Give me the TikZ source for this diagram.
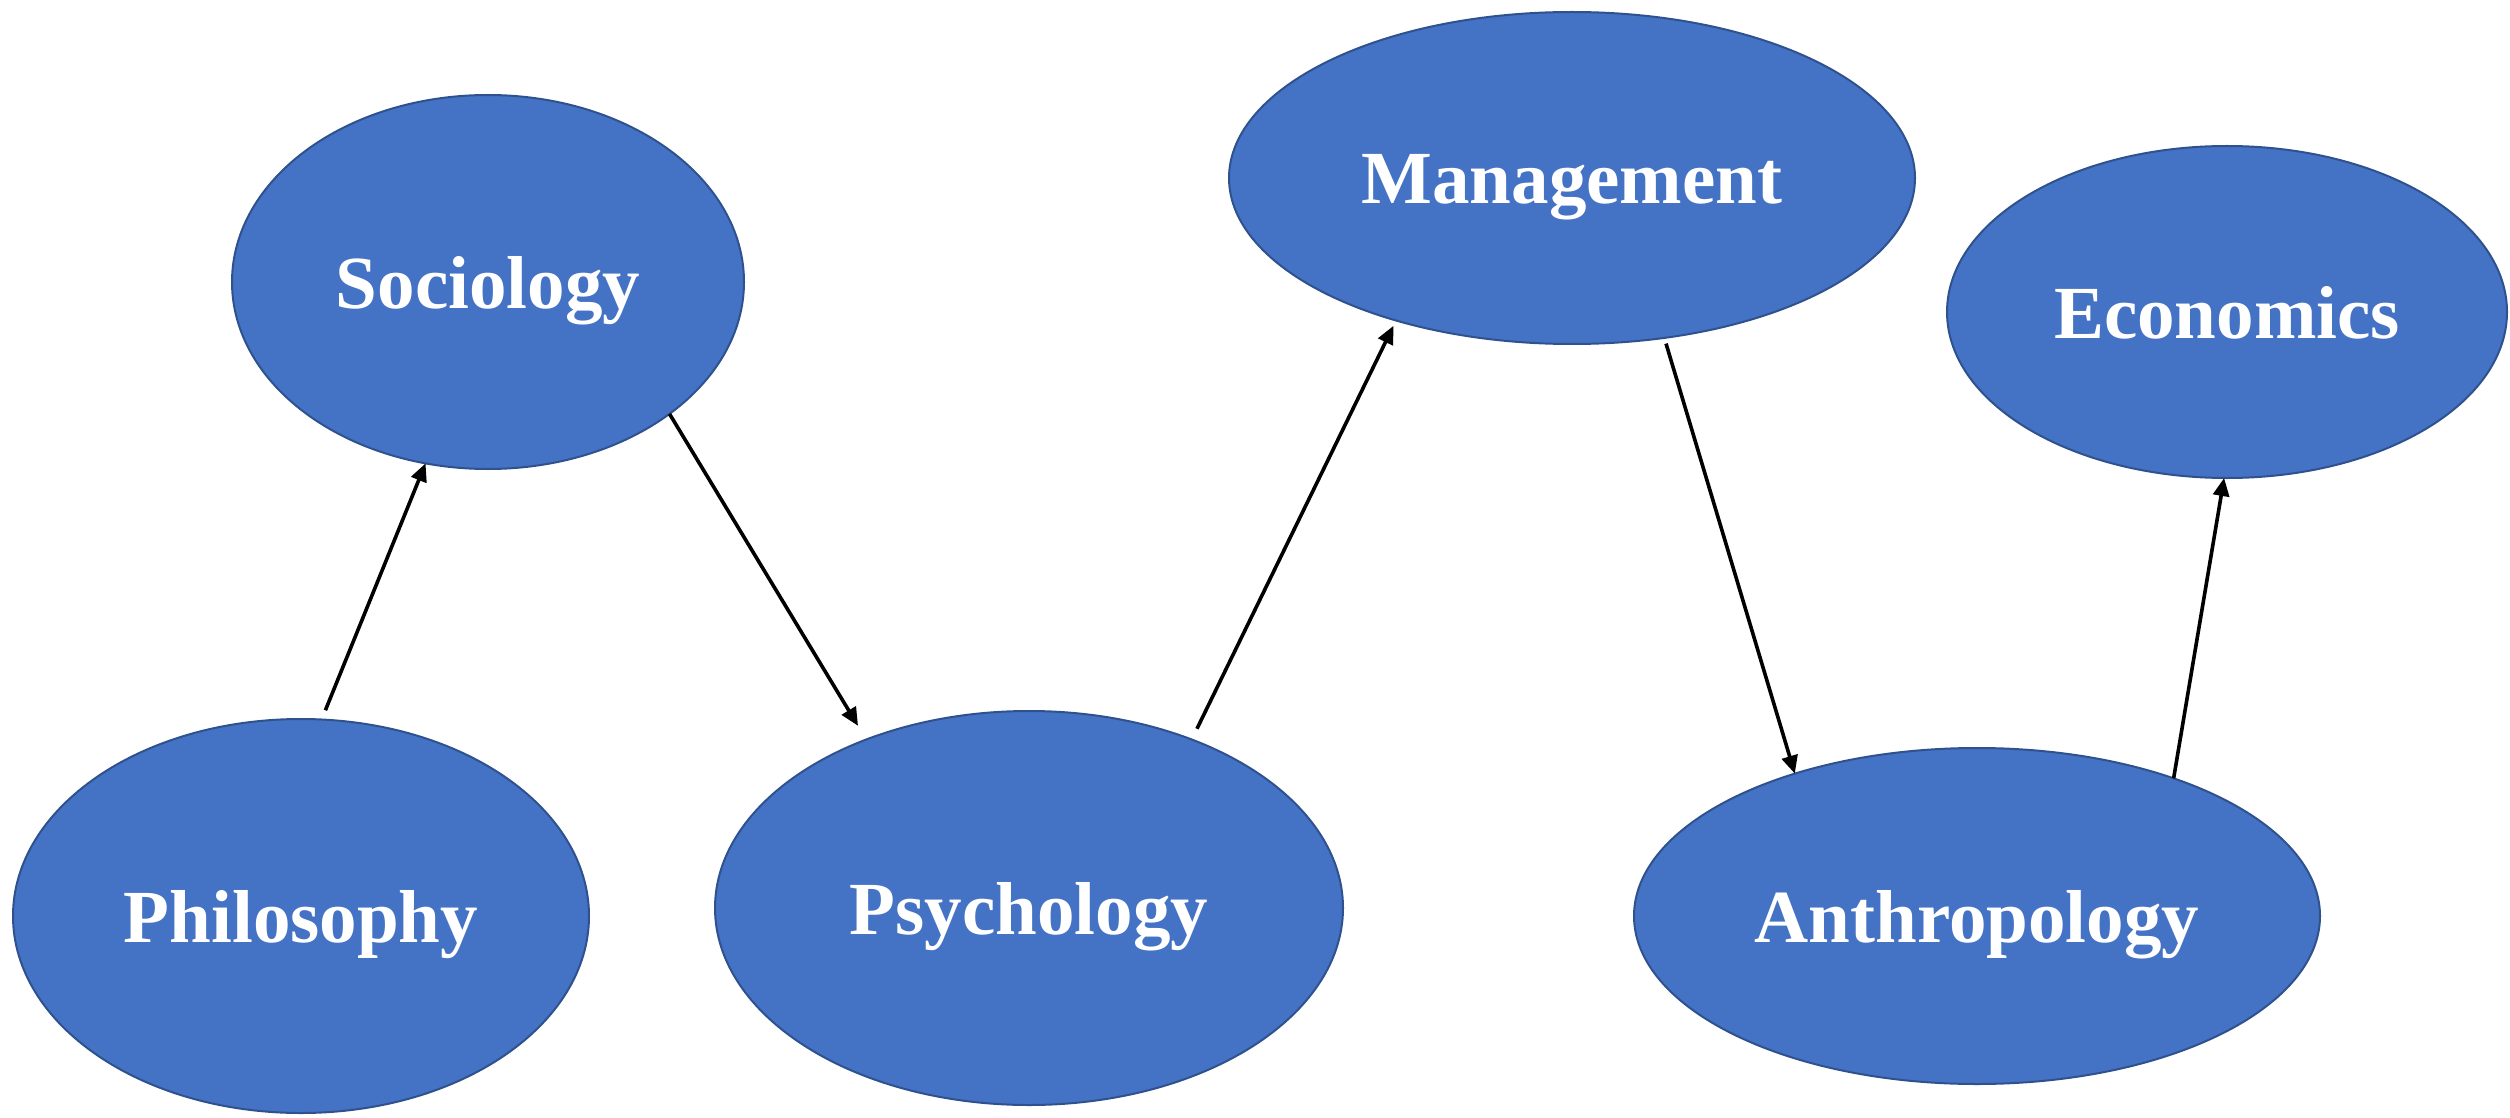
\documentclass[tikz,border=0pt]{standalone}
\usepackage{fontspec}
\setmainfont{Liberation Serif}
\usetikzlibrary{shapes.geometric,arrows.meta}
\definecolor{fillblue}{HTML}{4472C4}
\definecolor{edgeblue}{HTML}{2F528F}
\begin{document}
\begin{tikzpicture}[x=0.5pt,y=-0.5pt,
  field/.style={ellipse, draw=edgeblue, line width=1pt, fill=fillblue,
    inner sep=0pt, outer sep=0pt, text=white,
    font=\fontsize{37.5pt}{40pt}\selectfont\bfseries,
    text height=26pt, text depth=0pt},
  link/.style={-{Triangle[length=9pt,width=8pt]}, line width=1.8pt, black}]
\useasboundingbox (0,0) rectangle (2510,1118);
\node[field, minimum width=256pt, minimum height=187pt] (soc) at (488,282) {Sociology};
\node[field, minimum width=288pt, minimum height=197pt] (phil) at (301,916) {Philosophy};
\node[field, minimum width=314pt, minimum height=197pt] (psy) at (1029,908) {Psychology};
\node[field, minimum width=343pt, minimum height=166pt] (man) at (1572,178) {Management};
\node[field, minimum width=280pt, minimum height=166pt] (eco) at (2227,312) {Economics};
\node[field, minimum width=343pt, minimum height=168pt] (ant) at (1977,916) {Anthropology};
\draw[link, shorten <=5pt] (phil.84) -- (soc.-109);
\draw[link, shorten >=8pt] (soc.-36) -- (psy.134);
\draw[link, shorten <=6pt, shorten >=3pt] (psy.46) -- (man.-141);
\draw[link, shorten <=3pt] (man.-60) -- (ant.142);
\draw[link] (ant.35) -- (eco.-91);
\end{tikzpicture}
\end{document}
